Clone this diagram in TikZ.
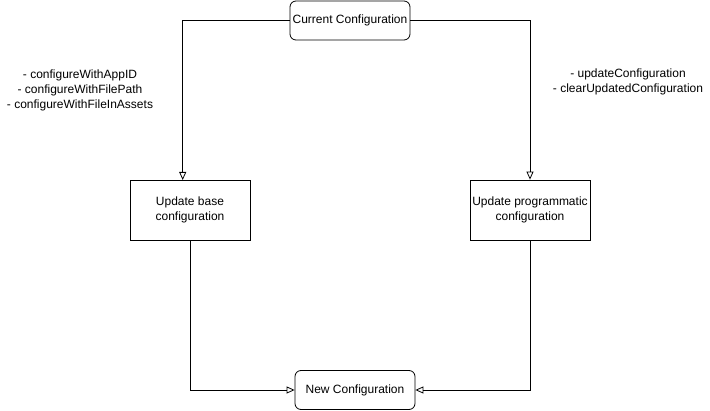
\documentclass[tikz,border=0pt]{standalone}
\usepackage{fontspec}
\setmainfont{Liberation Sans}
\usetikzlibrary{arrows.meta}
\begin{document}
\begin{tikzpicture}[x=1pt,y=-1pt,
  every node/.style={font=\fontsize{12}{15}\selectfont},
  rbox/.style={draw,line width=0.8pt,rounded corners=6pt,minimum width=120pt,minimum height=39pt,inner sep=0pt,align=center},
  sbox/.style={draw,line width=0.8pt,minimum width=120pt,minimum height=60pt,inner sep=0pt,align=center},
  lbl/.style={align=center,inner sep=0pt},
  conn/.style={line width=0.8pt,-{Triangle[open,length=8pt,width=7pt]}}]
\useasboundingbox (0,0) rectangle (710,411);
\node[rbox] (cur) at (350,20.5) {Current Configuration};
\node[sbox] (base) at (190,210) {Update base\\configuration};
\node[sbox] (prog) at (530,210) {Update programmatic\\configuration};
\node[rbox] (new) at (355,390) {New Configuration};
\node[lbl] (l1) at (80,90.5) {- configureWithAppID\\- configureWithFilePath\\- configureWithFileInAssets};
\node[lbl] (l2) at (628,81.5) {- updateConfiguration\\- clearUpdatedConfiguration};
\coordinate (bt) at (182.7,180);
\draw[conn] (cur.west) -| (bt);
\draw[conn] (cur.east) -| (prog.north);
\draw[conn] (base.south) |- (new.west);
\draw[conn] (prog.south) |- (new.east);
\end{tikzpicture}
\end{document}
